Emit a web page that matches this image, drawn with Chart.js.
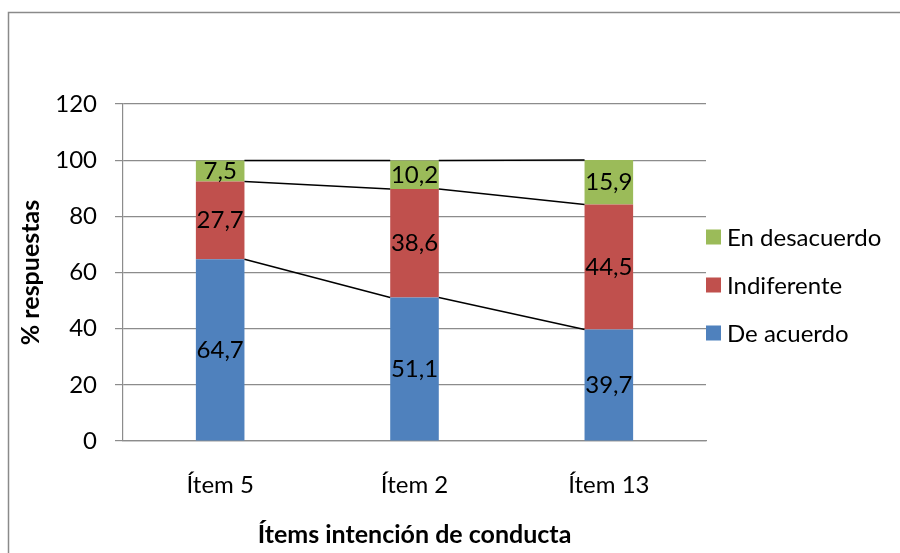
<!DOCTYPE html>
<html>
<head>
<meta charset="utf-8">
<script src="https://cdn.jsdelivr.net/npm/chart.js@4/dist/chart.umd.min.js"></script>
<style>
  html, body { margin: 0; padding: 0; background: #fff; }
  #wrap { width: 900px; height: 553px; }
</style>
</head>
<body>
<div id="wrap"><canvas id="chart" width="900" height="553"></canvas></div>
<script>
// Categories and series (percent of responses)
const categories = ['Ítem 5', 'Ítem 2', 'Ítem 13'];
const deAcuerdo = [64.7, 51.1, 39.7];
const indiferente = [27.7, 38.6, 44.5];
const enDesacuerdo = [7.5, 10.2, 15.9];
const seriesNames = ['De acuerdo', 'Indiferente', 'En desacuerdo'];
const yMin = 0, yMax = 120, yStep = 20;
const yTitle = '% respuestas';
const xTitle = 'Ítems intención de conducta';

const FONT = 'Lato, Carlito, Calibri, sans-serif';
const FS = 24;
const TFS = 25;
const GRID = '#8c8c8c';

const fmt = v => v.toFixed(1).replace('.', ',');

// Outer chart frame
const framePlugin = {
  id: 'frame',
  beforeDraw(chart) {
    const ctx = chart.ctx;
    ctx.save();
    ctx.fillStyle = '#fff';
    ctx.fillRect(0, 0, chart.width, chart.height);
    ctx.strokeStyle = '#8a8a8a';
    ctx.lineWidth = 1.5;
    ctx.strokeRect(8.5, 12.5, chart.width + 20, chart.height + 20);
    ctx.restore();
  }
};

// Series lines joining the top of each stacked segment between bars
const seriesLinesPlugin = {
  id: 'seriesLines',
  afterDatasetsDraw(chart) {
    const ctx = chart.ctx;
    ctx.save();
    ctx.strokeStyle = '#000';
    ctx.lineWidth = 1.5;
    chart.data.datasets.forEach((ds, i) => {
      const bars = chart.getDatasetMeta(i).data;
      for (let j = 0; j < bars.length - 1; j++) {
        const a = bars[j], b = bars[j + 1];
        ctx.beginPath();
        ctx.moveTo(a.x + a.width / 2, a.y);
        ctx.lineTo(b.x - b.width / 2, b.y);
        ctx.stroke();
      }
    });
    ctx.restore();
  }
};

// Value labels centred in each segment
const valueLabelsPlugin = {
  id: 'valueLabels',
  afterDatasetsDraw(chart) {
    const ctx = chart.ctx;
    ctx.save();
    ctx.font = `${FS}px ${FONT}`;
    ctx.fillStyle = '#000';
    ctx.textAlign = 'center';
    ctx.textBaseline = 'middle';
    chart.data.datasets.forEach((ds, i) => {
      chart.getDatasetMeta(i).data.forEach((bar, j) => {
        const y = (bar.y + bar.base) / 2;
        ctx.fillText(fmt(ds.data[j]), bar.x, y);
      });
    });
    ctx.restore();
  }
};

// Legend to the right of the plot, last series on top
const sideLegendPlugin = {
  id: 'sideLegend',
  afterDraw(chart) {
    const ctx = chart.ctx;
    const area = chart.chartArea;
    const x0 = area.right;
    const firstY = area.top + 133;
    const step = 48;
    ctx.save();
    ctx.font = `${FS}px ${FONT}`;
    ctx.textAlign = 'left';
    ctx.textBaseline = 'middle';
    const list = chart.data.datasets.slice().reverse();
    list.forEach((ds, k) => {
      const cy = firstY + k * step;
      ctx.fillStyle = ds.backgroundColor;
      ctx.fillRect(x0, cy - 7.5, 15, 15);
      ctx.fillStyle = '#000';
      ctx.fillText(ds.label, x0 + 21, cy + 1);
    });
    ctx.restore();
  }
};

new Chart(document.getElementById('chart'), {
  type: 'bar',
  data: {
    labels: categories,
    datasets: [
      { label: seriesNames[0], data: deAcuerdo, backgroundColor: '#4F81BD' },
      { label: seriesNames[1], data: indiferente, backgroundColor: '#C0504D' },
      { label: seriesNames[2], data: enDesacuerdo, backgroundColor: '#9BBB59' }
    ]
  },
  options: {
    responsive: false,
    animation: false,
    devicePixelRatio: 1,
    layout: { padding: { top: 104, right: 194, bottom: 0, left: 8 } },
    datasets: { bar: { categoryPercentage: 1, barPercentage: 0.25 } },
    plugins: {
      legend: { display: false },
      tooltip: { enabled: false }
    },
    scales: {
      x: {
        stacked: true,
        grid: { display: false, drawTicks: false },
        border: { display: true, color: GRID, width: 1.2 },
        ticks: { color: '#000', font: { family: FONT, size: FS }, padding: 30 },
        title: {
          display: true, text: xTitle, color: '#000',
          font: { family: FONT, size: TFS, weight: 'bold' },
          padding: { top: 0, bottom: 3 }
        },
        afterFit(axis) { axis.height = 112; }
      },
      y: {
        stacked: true,
        min: yMin, max: yMax,
        grid: { color: GRID, lineWidth: 1.2, tickLength: 8, drawTicks: true },
        border: { display: true, color: GRID, width: 1.2 },
        ticks: { stepSize: yStep, color: '#000', font: { family: FONT, size: FS }, padding: 18 },
        title: {
          display: true, text: yTitle, color: '#000',
          font: { family: FONT, size: TFS, weight: 'bold' },
          padding: { top: 8, bottom: 0 }
        },
        afterFit(axis) { axis.width = 115; }
      }
    }
  },
  plugins: [framePlugin, seriesLinesPlugin, valueLabelsPlugin, sideLegendPlugin]
});
</script>
</body>
</html>
